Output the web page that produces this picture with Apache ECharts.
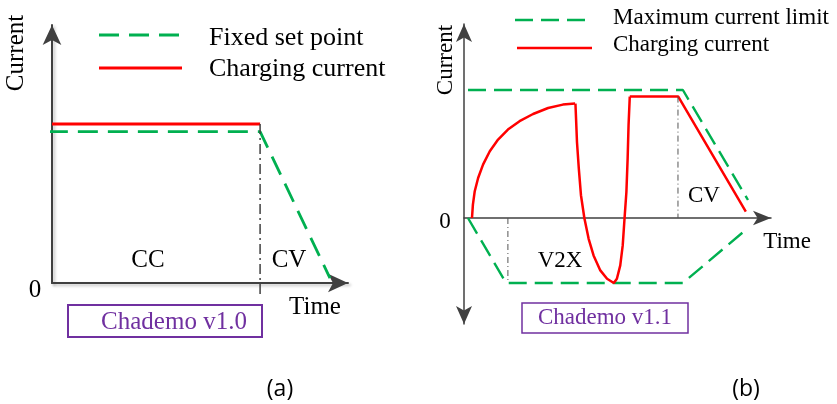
<!DOCTYPE html>
<html>
<head>
<meta charset="utf-8">
<script src="https://cdn.jsdelivr.net/npm/echarts@6/dist/echarts.min.js"></script>
<style>
  html, body { margin: 0; padding: 0; background: #fff; }
  #main { width: 837px; height: 404px; }
</style>
</head>
<body>
<div id="main"></div>
<script>
// panel (a) - Chademo v1.0
const fixedSetPoint = [[-0.14, 5.87], [7.03, 5.87], [9.39, 0.19]];
const chargingA = [[0, 6.16], [7.03, 6.16]];
const ccCvLineA = [[7.03, 6.16], [7.03, -0.54]];

// panel (b) - Chademo v1.1
const limitUpperB = [[0.13, 6.4], [7.13, 6.4], [9.25, 0.9]];
const limitLowerB = [[0.13, 0], [1.37, -3.25], [7.13, -3.25], [9.25, -0.5]];
const chargeArcB = [[0.26, 0], [0.29, 0.67], [0.35, 1.34], [0.46, 2.0], [0.62, 2.67], [0.84, 3.34],
  [1.11, 3.92], [1.43, 4.42], [1.81, 4.84], [2.25, 5.2], [2.74, 5.5], [3.22, 5.67], [3.62, 5.72]];
const chargeV2xB = [[3.63, 5.72], [3.65, 4.97], [3.68, 3.8], [3.74, 2.47], [3.81, 1.14], [3.92, 0],
  [4.06, -1.04], [4.22, -1.87], [4.44, -2.62], [4.66, -3.04], [4.88, -3.25], [4.98, -3.04],
  [5.09, -2.37], [5.17, -1.37], [5.23, 0], [5.29, 1.3], [5.33, 2.97], [5.36, 4.64], [5.40, 6.07]];
const chargeCvB = [[5.40, 6.07], [6.98, 6.07], [9.18, 0.32]];
const v2xLineB = [[1.43, 0], [1.43, -3.25]];
const cvLineB = [[6.97, 6.07], [6.97, 0]];

const legendA = ['Fixed set point', 'Charging current'];
const legendB = ['Maximum current limit', 'Charging current'];

const GREEN = '#00B050';
const RED = '#FF0000';
const PURPLE = '#7030A0';
const AXIS = '#404040';
const SERIF = 'Liberation Serif';

function axisOf(grid, min, max, arrows, size, shadow) {
  return {
    type: 'value', gridIndex: grid, min: min, max: max,
    axisLine: {
      show: true, onZero: true, symbol: arrows, symbolSize: size,
      lineStyle: Object.assign({ color: AXIS, width: grid === 0 ? 2 : 1.5 }, shadow ? {
        shadowColor: 'rgba(0,0,0,0.25)', shadowBlur: 3, shadowOffsetX: 2, shadowOffsetY: 2
      } : {})
    },
    axisTick: { show: false }, axisLabel: { show: false }, splitLine: { show: false }
  };
}

function lineSeries(name, grid, data, color, width, dash) {
  return {
    name: name, type: 'line', xAxisIndex: grid, yAxisIndex: grid, data: data,
    symbol: 'none', clip: false,
    lineStyle: { color: color, width: width, type: dash || 'solid' },
    itemStyle: { color: color }, z: 3
  };
}

function text(str, x, y, size, extra) {
  const el = {
    type: 'text', x: x, y: y,
    style: {
      text: str, fill: '#000', fontFamily: SERIF, fontSize: size,
      textAlign: 'center', textVerticalAlign: 'middle'
    }
  };
  if (extra && extra.fill) el.style.fill = extra.fill;
  if (extra && extra.fontFamily) el.style.fontFamily = extra.fontFamily;
  if (extra && extra.align) el.style.textAlign = extra.align;
  if (extra && extra.rotation) el.rotation = extra.rotation;
  return el;
}

// legend sample: a short line plus its label
function legendItem(label, x1, x2, y, color, width, dash, tx, ty, size) {
  return [
    {
      type: 'line', shape: { x1: x1, y1: y, x2: x2, y2: y },
      style: { stroke: color, lineWidth: width, lineDash: dash || null }
    },
    text(label, tx, ty, size, { align: 'left' })
  ];
}

window.onload = function () {
  const chart = echarts.init(document.getElementById('main'), null, { renderer: 'canvas' });
  const option = {
    animation: false,
    grid: [
      { left: 52, top: 25, width: 296, height: 258 },
      { left: 464, top: 24, width: 307, height: 300 }
    ],
    xAxis: [
      axisOf(0, 0, 10, ['none', 'arrow'], [14, 20], true),
      axisOf(1, 0, 10, ['none', 'arrow'], [11, 18], false)
    ],
    yAxis: [
      axisOf(0, 0, 10, ['none', 'arrow'], [14, 20], true),
      axisOf(1, -5.3, 9.7, ['arrow', 'arrow'], [12, 18], false)
    ],
    series: [
      lineSeries('Fixed set point', 0, fixedSetPoint, GREEN, 2.8, [20, 10]),
      lineSeries('Charging current', 0, chargingA, RED, 3),
      lineSeries('cc-cv', 0, ccCvLineA, AXIS, 1.5, [10, 4, 2, 4]),
      lineSeries('Maximum current limit', 1, limitUpperB, GREEN, 2.4, [18, 8]),
      lineSeries('Maximum current limit', 1, limitLowerB, GREEN, 2.4, [18, 8]),
      lineSeries('Charging current', 1, chargeArcB, RED, 2.5),
      lineSeries('Charging current', 1, chargeV2xB, RED, 2.5),
      lineSeries('Charging current', 1, chargeCvB, RED, 2.5),
      lineSeries('v2x', 1, v2xLineB, '#555', 1, [6, 3, 1, 3]),
      lineSeries('cv', 1, cvLineB, '#555', 1, [6, 3, 1, 3])
    ],
    graphic: [].concat(
      legendItem(legendA[0], 99, 182, 35, GREEN, 2.8, [20, 10], 209, 38, 26),
      legendItem(legendA[1], 99, 182, 68, RED, 3, null, 209, 69, 26),
      legendItem(legendB[0], 515, 590, 20, GREEN, 2.4, [18, 8], 613, 18, 23),
      legendItem(legendB[1], 517, 592, 48, RED, 2.5, null, 613, 45, 23),
      [
        text('Current', 16, 53, 25, { rotation: Math.PI / 2 }),
        text('0', 35, 290, 25),
        text('Time', 315, 307, 25),
        text('CC', 148, 260, 25),
        text('CV', 289, 260, 25),
        {
          type: 'rect', shape: { x: 68, y: 305, width: 194, height: 32 },
          style: { fill: 'none', stroke: PURPLE, lineWidth: 2 }
        },
        text('Chademo v1.0', 174, 322, 25, { fill: PURPLE }),
        text('Current', 446, 60, 23, { rotation: Math.PI / 2 }),
        text('0', 445, 222, 23),
        text('Time', 787, 242, 23),
        text('V2X', 560, 261, 23),
        text('CV', 704, 196, 23),
        {
          type: 'rect', shape: { x: 522, y: 303, width: 166, height: 30 },
          style: { fill: 'none', stroke: PURPLE, lineWidth: 1.5 }
        },
        text('Chademo v1.1', 605, 318, 23, { fill: PURPLE }),
        text('(a)', 280, 389, 23, { fontFamily: 'Open Sans' }),
        text('(b)', 746, 389, 23, { fontFamily: 'Open Sans' })
      ]
    )
  };
  chart.setOption(option);
};
</script>
</body>
</html>
